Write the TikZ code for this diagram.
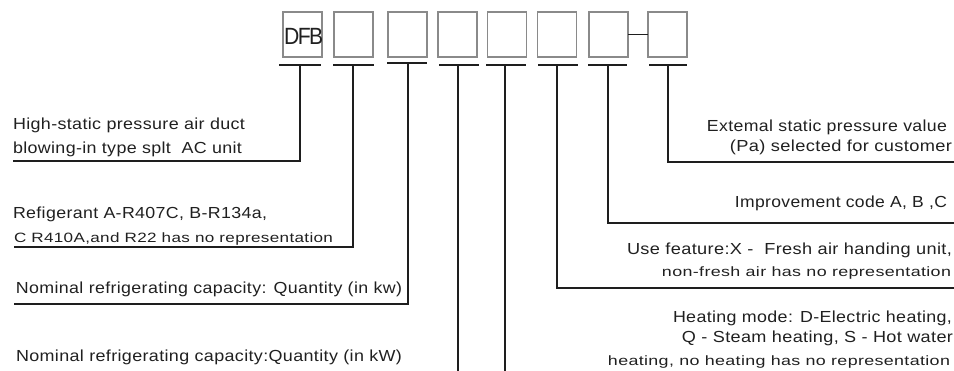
\documentclass[tikz,border=0pt]{standalone}
\usepackage{fontspec}
\setmainfont{Liberation Sans}[LetterSpace=2]
\usepackage{graphicx}
\newcommand{\fw}[2]{\resizebox{#1pt}{\height}{#2}}
\definecolor{boxgrey}{HTML}{8A8A8A}
\definecolor{lineblack}{HTML}{1E1E1E}
\definecolor{txt}{HTML}{202020}
\tikzset{
  lbl/.style={inner sep=0pt, outer sep=0pt, text=txt, font=\fontsize{16}{19}\selectfont},
  lbls/.style={inner sep=0pt, outer sep=0pt, text=txt, font=\fontsize{13.5}{16}\selectfont},
  codebox/.style={draw=boxgrey, line width=1.4pt, minimum width=39pt, minimum height=45pt, inner sep=0pt, outer sep=0pt},
  lead/.style={draw=lineblack, line width=1.8pt},
}
\begin{document}
\begin{tikzpicture}[x=1pt,y=-1pt]
\useasboundingbox (0,0) rectangle (954,371);
% code boxes
\node[codebox] (b1) at (302.5,34.5) {};
\node[codebox] (b2) at (353.5,34.5) {};
\node[codebox] (b3) at (407.5,34.5) {};
\node[codebox] (b4) at (457.5,34.5) {};
\node[codebox] (b5) at (507,34.5) {};
\node[codebox] (b6) at (557,34.5) {};
\node[codebox] (b7) at (608.5,34.5) {};
\node[codebox] (b8) at (667.5,34.5) {};
\node[anchor=base west, inner sep=0pt, text=txt, font=\fontsize{23.5}{26}\selectfont] (dfb) at (284,45) {\resizebox{39pt}{\height}{\addfontfeature{LetterSpace=-8}DFB}};
\draw[lead] (b7.east) -- (b8.west);
% T bar tops
\coordinate (t1) at (300,65);
\coordinate (t2) at (353,65);
\coordinate (t3) at (408,63);
\coordinate (t4) at (458,65);
\coordinate (t5) at (505,65);
\coordinate (t6) at (557,65);
\coordinate (t7) at (608,65);
\coordinate (t8) at (668,65);
\foreach \i/\a/\b in {1/-21/21, 2/-20/21, 3/-21/19, 4/-19/21, 5/-19/21, 6/-19/21, 7/-20/19, 8/-19/19}{
  \draw[lead] ([xshift=\a pt]t\i) -- ([xshift=\b pt]t\i);
}
% line ends
\coordinate (l1) at (13,161);
\coordinate (l2) at (14,247);
\coordinate (l3) at (14,304);
\coordinate (e4) at (458,371);
\coordinate (e5) at (505,371);
\coordinate (r6) at (954,288);
\coordinate (r7) at (954,223);
\coordinate (r8) at (954,162);
\draw[lead] (t1) |- (l1);
\draw[lead] (t2) |- (l2);
\draw[lead] (t3) |- (l3);
\draw[lead] (t4) -- (e4);
\draw[lead] (t5) -- (e5);
\draw[lead] (t6) |- (r6);
\draw[lead] (t7) |- (r7);
\draw[lead] (t8) |- (r8);
% left labels
\node[lbl, anchor=base west] (n1) at (13,130) {\fw{232}{High-static pressure air duct}};
\node[lbl, anchor=base west] (n2) at (13,154) {\fw{229}{blowing-in type splt\ \ AC unit}};
\node[lbl, anchor=base west] (n3) at (13,219) {\fw{254}{Refigerant A-R407C, B-R134a,}};
\node[lbls, anchor=base west] (n4) at (14,243) {\fw{319}{C R410A,and R22 has no representation}};
\node[lbl, anchor=base west] (n5) at (16,294) {\fw{386}{Nominal refrigerating capacity: Quantity (in kw)}};
\node[lbl, anchor=base west] (n6) at (16,362) {\fw{386}{Nominal refrigerating capacity:Quantity (in kW)}};
% right labels
\node[lbl, anchor=base east] (n7) at (947,132) {\fw{240}{Extemal static pressure value}};
\node[lbl, anchor=base east] (n8) at (952,152) {\fw{222}{(Pa) selected for customer}};
\node[lbl, anchor=base east] (n9) at (947,208) {\fw{212}{Improvement code A, B ,C}};
\node[lbl, anchor=base east] (n10) at (952,255) {\fw{325}{Use feature:X -\ \ Fresh air handing unit,}};
\node[lbls, anchor=base east] (n11) at (951,277) {\fw{289}{non-fresh air has no representation}};
\node[lbl, anchor=base east] (n12) at (952,323) {\fw{279}{Heating mode: D-Electric heating,}};
\node[lbl, anchor=base east] (n13) at (953,343) {\fw{271}{Q - Steam heating, S - Hot water}};
\node[lbls, anchor=base east] (n14) at (950,366) {\fw{342}{heating, no heating has no representation}};
\end{tikzpicture}
\end{document}
